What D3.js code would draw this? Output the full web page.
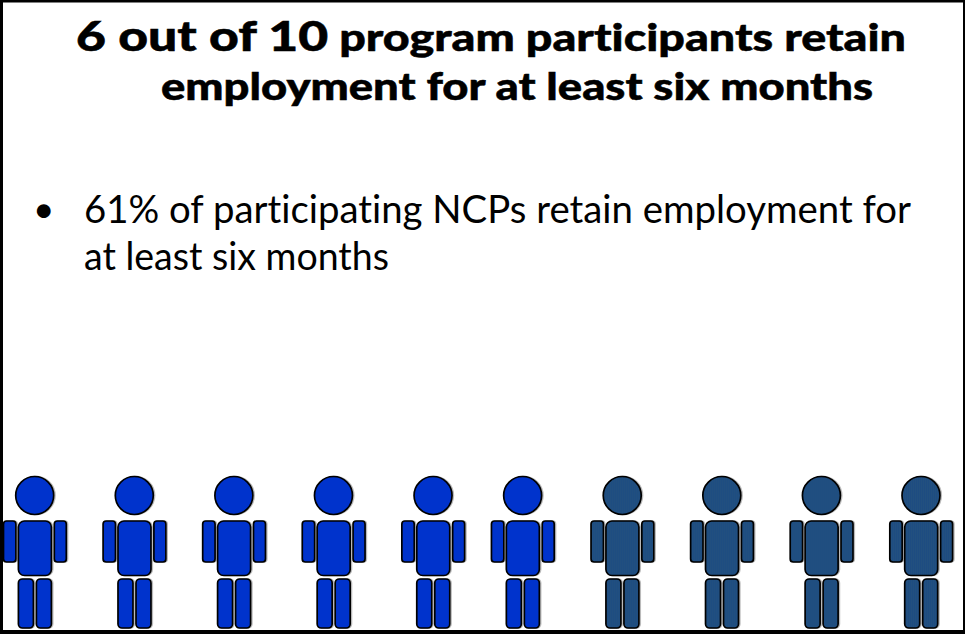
<!DOCTYPE html>
<html>
<head>
<meta charset="utf-8">
<script src="https://cdn.jsdelivr.net/npm/d3@7"></script>
<style>
  html, body { margin: 0; padding: 0; background: #fff; }
  svg { display: block; }
  text { font-variant-ligatures: none; }
  .title { font-family: Lato, sans-serif; font-weight: 900; fill: #000; stroke: #000; stroke-width: 0.5px; }
  .body-text { font-family: Lato, sans-serif; font-weight: 400; fill: #000; font-size: 39px; }
</style>
</head>
<body>
<svg id="chart" width="965" height="634"></svg>
<script>
// 6 of the 10 figures are coloured as retained, the last 4 as not retained
const personIndex = [0, 1, 2, 3, 4, 5, 6, 7, 8, 9];
const personGroup = ['retained', 'retained', 'retained', 'retained', 'retained', 'retained',
  'other', 'other', 'other', 'other'];
const personRow = ['left', 'left', 'left', 'left', 'left', 'right', 'right', 'right', 'right', 'right'];
const groups = ['retained', 'other'];
const titleLines = [
  [{ text: '6 out of 10', size: 41 }, { text: ' program participants retain', size: 37 }],
  [{ text: 'employment for at least six months', size: 37 }]
];
const bulletLines = ['61% of participating NCPs retain employment for', 'at least six months'];

const svg = d3.select('#chart');
const width = +svg.attr('width');
const height = +svg.attr('height');

const defs = svg.append('defs');
const pattern = defs.append('pattern')
  .attr('id', 'dither')
  .attr('width', 2).attr('height', 2)
  .attr('patternUnits', 'userSpaceOnUse');
pattern.append('rect').attr('width', 2).attr('height', 2).attr('fill', '#1f4e82');
pattern.append('rect').attr('width', 1).attr('height', 1).attr('fill', '#24527c');
pattern.append('rect').attr('x', 1).attr('y', 1).attr('width', 1).attr('height', 1).attr('fill', '#1c4a80');

const color = d3.scaleOrdinal().domain(groups).range(['#0033cc', 'url(#dither)']);

// regular pitch, with the right hand five pulled 10px to the left
const x = d3.scaleLinear().domain([0, 9]).range([34.7, 931]);
const rowShift = d3.scaleOrdinal().domain(['left', 'right']).range([0, -10]);

// title
const title = svg.append('g');
const titleX = [76, 161];
const titleY = [51, 100];
const titleW = [830, 712];
titleLines.forEach((line, i) => {
  const t = title.append('text')
    .attr('class', 'title')
    .attr('x', titleX[i])
    .attr('y', titleY[i])
    .attr('textLength', titleW[i])
    .attr('lengthAdjust', 'spacingAndGlyphs');
  t.selectAll('tspan').data(line).join('tspan')
    .attr('font-size', d => d.size)
    .attr('xml:space', 'preserve')
    .text(d => d.text);
});

// bullet
svg.append('text')
  .attr('class', 'body-text')
  .attr('x', 33).attr('y', 222)
  .style('font-size', '37px')
  .text('•');
const bodyW = [827, 305];
svg.selectAll('.line').data(bulletLines).join('text')
  .attr('class', 'line body-text')
  .attr('x', 84)
  .attr('y', (d, i) => 223 + i * 47)
  .attr('textLength', (d, i) => bodyW[i])
  .attr('lengthAdjust', 'spacingAndGlyphs')
  .text(d => d);

// figure parts, relative to the head centre of each person
const parts = [
  { x: -16.3, y: 25.5, w: 33, h: 54.5, r: 6 },
  { x: -31.2, y: 25.5, w: 12.4, h: 41, r: 3 },
  { x: 19.6, y: 25.5, w: 12, h: 41, r: 3 },
  { x: -16.3, y: 83.5, w: 15, h: 49, r: 4 },
  { x: 1.7, y: 83.5, w: 15, h: 49, r: 4 }
];

const people = svg.selectAll('.person').data(personIndex).join('g')
  .attr('class', 'person')
  .attr('transform', d => `translate(${x(d) + rowShift(personRow[d])},495.5)`);

const drawShapes = (sel, dx, fill, stroke, sw) => {
  sel.append('circle')
    .attr('cx', dx).attr('r', 19)
    .attr('fill', fill).attr('stroke', stroke).attr('stroke-width', sw);
  parts.forEach(p => {
    sel.append('rect')
      .attr('x', p.x + dx).attr('y', p.y)
      .attr('width', p.w).attr('height', p.h).attr('rx', p.r)
      .attr('fill', fill).attr('stroke', stroke).attr('stroke-width', sw);
  });
};

// soft grey shadow, then the figure itself
people.each(function (d) {
  const g = d3.select(this);
  drawShapes(g.append('g').attr('opacity', 0.5), 1.3, 'none', '#777', 1.6);
  drawShapes(g.append('g'), 0, color(personGroup[d]), '#000', 1.7);
});

// frame, heavier on the left and bottom
svg.append('path')
  .attr('fill-rule', 'evenodd')
  .attr('fill', '#000')
  .attr('d', `M0,0H${width}V${height}H0Z M3,2.5V630H963V2.5Z`);
</script>
</body>
</html>
